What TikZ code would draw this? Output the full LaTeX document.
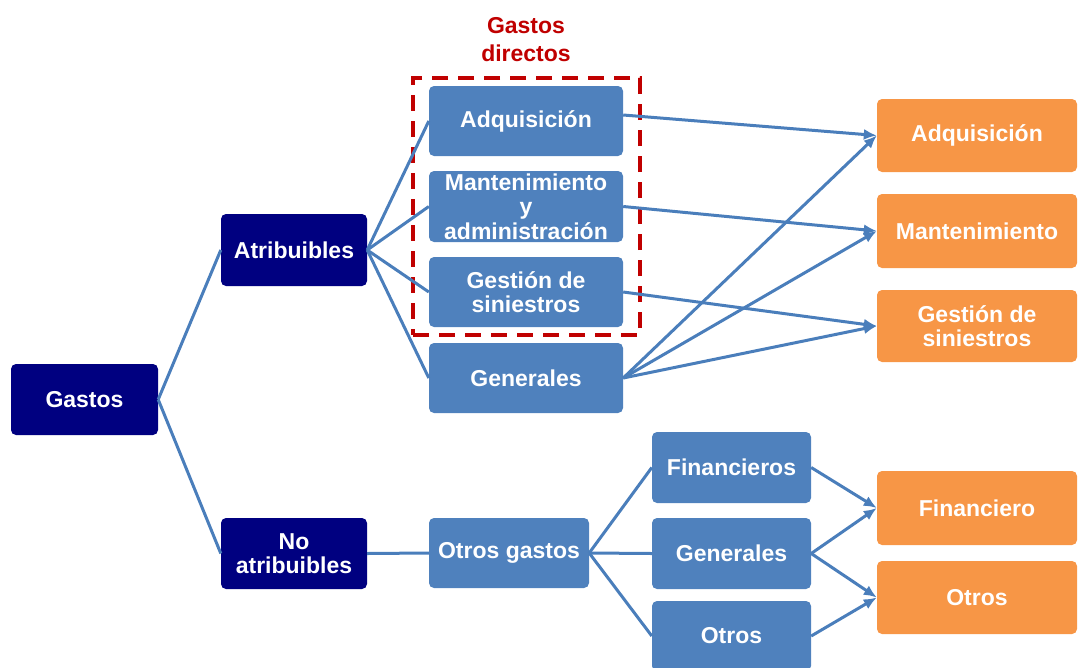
\documentclass[tikz,border=0pt]{standalone}
\usepackage{fontspec}
\setmainfont{Liberation Sans}
\usetikzlibrary{arrows.meta}
\definecolor{navy}{RGB}{0,0,128}
\definecolor{bblue}{RGB}{79,129,189}
\definecolor{orng}{RGB}{247,150,70}
\definecolor{lineb}{RGB}{74,126,187}
\definecolor{dred}{RGB}{192,0,0}
\begin{document}
\begin{tikzpicture}[x=1pt,y=-1pt,
 box/.style={rounded corners=5pt, text=white, font=\fontsize{23}{24.5}\selectfont\bfseries, align=center, inner sep=0pt, anchor=center},
 lvlone/.style={box, fill=navy, minimum width=147pt, minimum height=71pt},
 lvltwo/.style={box, fill=bblue, minimum width=194pt, minimum height=70pt},
 lvlthree/.style={box, fill=bblue, minimum width=159pt, minimum height=71pt},
 res/.style={box, fill=orng, minimum width=200pt, minimum height=73pt},
 conn/.style={draw=lineb, line width=3pt},
 arr/.style={conn, -{Latex[length=13pt,width=11pt]}}]
\useasboundingbox (0,0) rectangle (1078,667);
\clip (0,0) rectangle (1078,667);
% title and group
\node[text=dred, font=\fontsize{23}{28}\selectfont\bfseries, align=center] (title) at (526,40) {Gastos\\directos};
\node[draw=dred, line width=4.5pt, dash pattern=on 16pt off 10pt, minimum width=227pt, minimum height=257pt, inner sep=0pt] (grp) at (526.5,206.5) {};
% level 1
\node[lvlone] (gastos) at (84.5,399.5) {Gastos};
\node[lvlone, minimum width=146pt, minimum height=72pt] (atrib) at (294,250) {Atribuibles};
\node[lvlone, minimum width=146pt, minimum height=71pt] (noatrib) at (294,553.5) {No\\atribuibles};
% level 2
\node[lvltwo] (adq) at (526,121) {Adquisición};
\node[lvltwo, minimum height=71pt] (man) at (526,206.5) {Mantenimiento\\y\\administración};
\node[lvltwo] (ges) at (526,292) {Gestión de\\siniestros};
\node[lvltwo] (gen) at (526,378) {Generales};
\node[lvltwo, minimum width=160pt] (otg) at (509,553) {Otros gastos};
% level 3
\node[lvlthree] (fin) at (731.5,467.5) {Financieros};
\node[lvlthree] (gentwo) at (731.5,553.5) {Generales};
\node[lvlthree, minimum height=70pt] (otr) at (731.5,636) {Otros};
% results
\node[res] (radq) at (977,135.5) {Adquisición};
\node[res, minimum height=74pt] (rman) at (977,231) {Mantenimiento};
\node[res, minimum height=72pt] (rges) at (977,326) {Gestión de\\siniestros};
\node[res, minimum height=74pt] (rfin) at (977,508) {Financiero};
\node[res] (rotr) at (977,597.5) {Otros};
% tree connectors
\draw[conn] (gastos.east) -- (atrib.west);
\draw[conn] (gastos.east) -- (noatrib.west);
\draw[conn] (atrib.east) -- (adq.west);
\draw[conn] (atrib.east) -- (man.west);
\draw[conn] (atrib.east) -- (ges.west);
\draw[conn] (atrib.east) -- (gen.west);
\draw[conn] (noatrib.east) -- (otg.west);
\draw[conn] (otg.east) -- (fin.west);
\draw[conn] (otg.east) -- (gentwo.west);
\draw[conn] (otg.east) -- (otr.west);
% arrows
\draw[arr] ([yshift=6pt]adq.east) -- (radq.west);
\draw[arr] (man.east) -- (rman.west);
\draw[arr] (ges.east) -- (rges.west);
\draw[arr] (gen.east) -- (radq.west);
\draw[arr] (gen.east) -- (rman.west);
\draw[arr] (gen.east) -- (rges.west);
\draw[arr] (fin.east) -- (rfin.west);
\draw[arr] (gentwo.east) -- (rfin.west);
\draw[arr] (gentwo.east) -- (rotr.west);
\draw[arr] (otr.east) -- (rotr.west);
\end{tikzpicture}
\end{document}
